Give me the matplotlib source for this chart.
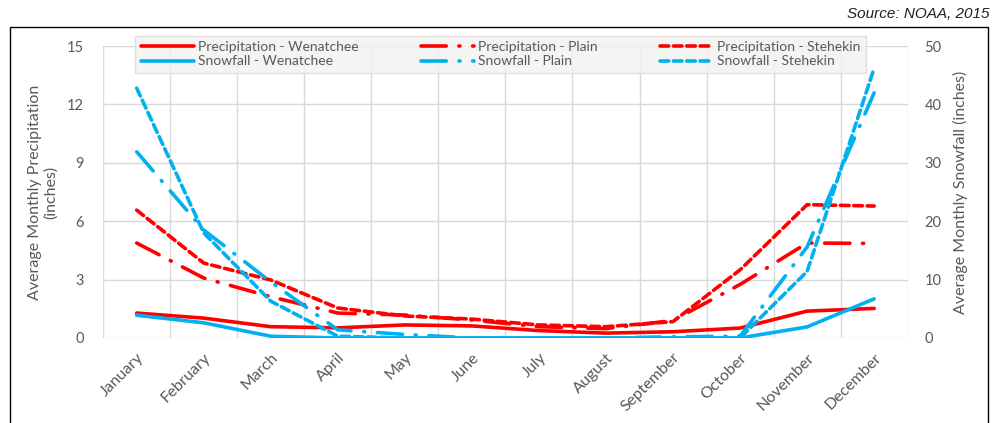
import numpy as np
import matplotlib.pyplot as plt
from matplotlib.patches import Rectangle

plt.rcParams['font.family'] = ['Lato', 'DejaVu Sans']

months = ["January", "February", "March", "April", "May", "June", "July",
          "August", "September", "October", "November", "December"]

# precipitation (inches), left axis
precip_wenatchee = [1.28, 1.02, 0.58, 0.52, 0.67, 0.62, 0.38, 0.25, 0.32, 0.51, 1.38, 1.52]
precip_plain = [4.88, 3.08, 2.12, 1.28, 1.18, 0.92, 0.58, 0.48, 0.90, 2.75, 4.88, 4.86]
precip_stehekin = [6.57, 3.85, 2.98, 1.54, 1.13, 0.97, 0.67, 0.58, 0.84, 3.50, 6.85, 6.78]

# snowfall (inches), right axis
snow_wenatchee = [3.9, 2.6, 0.3, 0.0, 0.0, 0.0, 0.0, 0.0, 0.0, 0.0, 1.9, 6.7]
snow_plain = [31.9, 18.5, 9.6, 1.4, 0.6, 0.0, 0.0, 0.0, 0.2, 0.3, 15.6, 42.0]
snow_stehekin = [42.8, 18.0, 6.3, 0.3, 0.0, 0.0, 0.0, 0.0, 0.0, 0.0, 11.4, 46.2]

red = "#FF0000"
blue = "#00B0F0"
grey = "#595959"
grid = "#D9D9D9"
lw = 2.6
long_dash = (0, (7, 3.5, 0.3, 3.5))
short_dash = (0, (2.4, 1.3))

fig = plt.figure(figsize=(9.92, 4.23), dpi=100)
ax = fig.add_axes([0.104, 0.201, 0.811, 0.69])
ax2 = ax.twinx()

x = np.arange(len(months))

l1, = ax.plot(x, precip_wenatchee, color=red, lw=lw, solid_capstyle='round')
l3, = ax.plot(x, precip_plain, color=red, lw=lw, linestyle=long_dash, dash_capstyle='round')
l5, = ax.plot(x, precip_stehekin, color=red, lw=lw, linestyle=short_dash, dash_capstyle='round')
l2, = ax2.plot(x, snow_wenatchee, color=blue, lw=lw, solid_capstyle='round')
l4, = ax2.plot(x, snow_plain, color=blue, lw=lw, linestyle=long_dash, dash_capstyle='round')
l6, = ax2.plot(x, snow_stehekin, color=blue, lw=lw, linestyle=short_dash, dash_capstyle='round')

ax.set_xlim(-0.5, 11.5)
ax.set_ylim(0, 15)
ax2.set_ylim(0, 50)
ax.set_yticks([0, 3, 6, 9, 12, 15])
ax2.set_yticks([0, 10, 20, 30, 40, 50])

# vertical gridlines between categories
for b in np.arange(-0.5, 12, 1):
    ax.axvline(b, color=grid, lw=1, zorder=0)
for t in [0, 3, 6, 9, 12, 15]:
    ax.axhline(t, color=grid, lw=1, zorder=0)

ax.set_xticks(x)
ax.set_xticklabels(months, rotation=45, ha='right', rotation_mode='anchor',
                   fontsize=11.5, color=grey)
for a in (ax, ax2):
    for s in a.spines.values():
        s.set_visible(False)
    a.tick_params(length=0, labelsize=10.5, labelcolor=grey)
ax.tick_params(axis='x', labelsize=11.5, pad=9)
ax.tick_params(axis='y', pad=14)
ax2.tick_params(axis='y', pad=12)

ax.set_ylabel("Average Monthly Precipitation\n(inches)", fontsize=11.5, color=grey, labelpad=6)
ax2.set_ylabel("Average Monthly Snowfall (inches)", fontsize=11.5, color=grey, labelpad=8)

leg = ax2.legend([l1, l2, l3, l4, l5, l6],
                 ["Precipitation - Wenatchee", "Snowfall - Wenatchee",
                  "Precipitation - Plain", "Snowfall - Plain",
                  "Precipitation - Stehekin", "Snowfall - Stehekin"],
                 ncol=3, mode='expand', bbox_to_anchor=(0.04, 0.908, 0.908, 0.137),
                 loc='lower left', fontsize=10, frameon=True, fancybox=False,
                 shadow=False, handlelength=3.8, handletextpad=0.3,
                 borderaxespad=0, labelspacing=0.15, borderpad=0.4)
leg.get_frame().set_facecolor("#F2F2F0")
leg.get_frame().set_edgecolor("#D9D9D9")
for t in leg.get_texts():
    t.set_color(grey)

fig.patches.append(Rectangle((10 / 992, -0.01), 978 / 992, 1 - 27 / 423 + 0.01,
                             transform=fig.transFigure, fill=False,
                             edgecolor="black", lw=1))

fig.text(0.997, 0.968, "Source: NOAA, 2015", ha='right', va='center',
         fontsize=11, style='italic', family='Liberation Sans', color="#222222")

fig.savefig("out.png", dpi=100)
